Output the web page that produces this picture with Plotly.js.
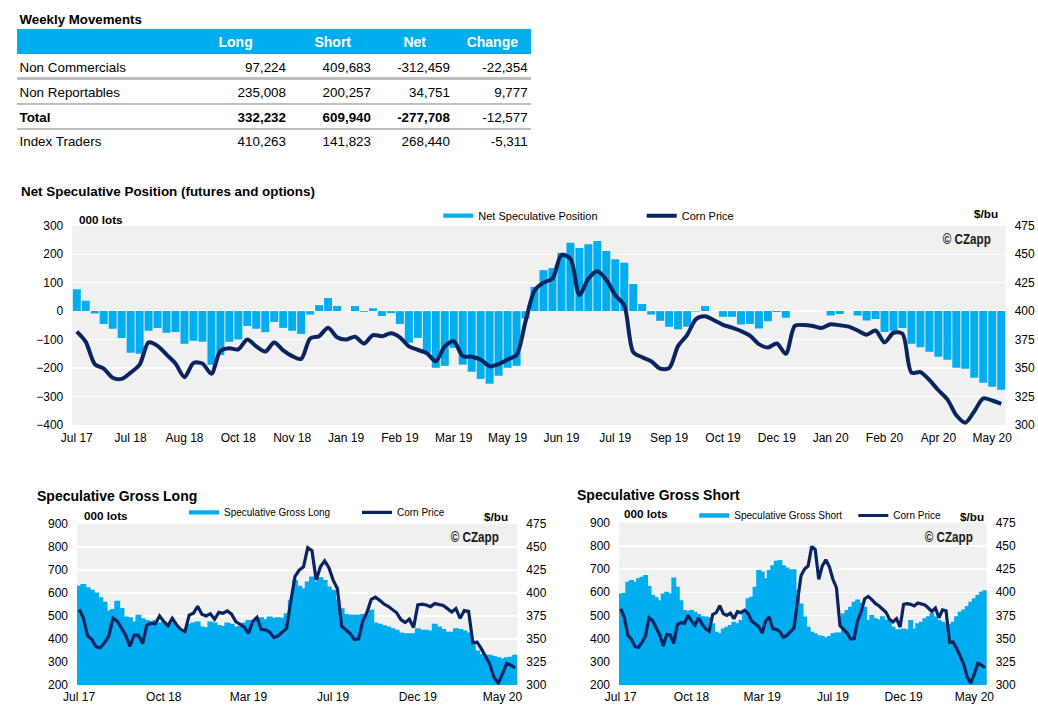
<!DOCTYPE html>
<html>
<head>
<meta charset="utf-8">
<script src="https://cdn.plot.ly/plotly-3.0.1.min.js"></script>
<style>
html, body { margin: 0; padding: 0; background: #ffffff; }
#wrap { position: relative; width: 1038px; height: 718px; overflow: hidden; font-family: "Liberation Sans", Arial, sans-serif; }
#chart { position: absolute; left: 0; top: 0; width: 1038px; height: 718px; }
#tbl { position: absolute; left: 0; top: 0; width: 1038px; height: 160px; }
.t { position: absolute; white-space: nowrap; height: 20px; line-height: 20px; color: #000; }
</style>
</head>
<body>
<div id="wrap">
  <div id="chart"></div>
  <div id="tbl"></div>
</div>
<script>
// ---------------- DATA ----------------
const tableTitle = 'Weekly Movements';
const colHeaders = ['Long', 'Short', 'Net', 'Change'];
const rowLabels = ['Non Commercials', 'Non Reportables', 'Total', 'Index Traders'];
const longCol   = ['97,224', '235,008', '332,232', '410,263'];
const shortCol  = ['409,683', '200,257', '609,940', '141,823'];
const netCol    = ['-312,459', '34,751', '-277,708', '268,440'];
const changeCol = ['-22,354', '9,777', '-12,577', '-5,311'];

const netTickLabels = ['Jul 17','Jul 18','Aug 18','Oct 18','Nov 18','Jan 19','Feb 19','Mar 19','May 19',
  'Jun 19','Jul 19','Sep 19','Oct 19','Dec 19','Jan 20','Feb 20','Apr 20','May 20'];
const grossTickLabels = ['Jul 17','Oct 18','Mar 19','Jul 19','Dec 19','May 20'];

// Net speculative position, 000 lots (weekly)
const netPosition = [77,36,-8,-45,-62,-94,-146,-150,-69,-59,
  -76,-73,-115,-104,-108,-188,-154,-108,-100,-52,
  -62,-74,-38,-59,-69,-80,-12,21,46,18,
  0,18,-3,10,-17,-7,-45,-111,-94,-148,
  -199,-192,-129,-188,-213,-238,-255,-227,-199,-192,
  -26,85,144,151,205,240,222,235,246,211,
  182,170,95,25,-12,-34,-55,-64,-55,-2,
  18,0,-20,-20,-47,-45,-61,-36,-3,-23,
  0,0,0,0,-15,-10,0,-15,-33,-28,
  -73,-69,-59,-115,-127,-143,-160,-171,-199,-202,
  -234,-252,-266,-276];

// Corn price, $/bu (cents)
const cornPrice = [382,373,353.5,349.5,341.5,340.5,346,353,372.5,369.5,
  361.8,354,342,354.5,354,345,365,367.3,366.5,375,
  369,364.5,372.5,365.5,360.5,358,376,378,385.5,377,
  375,377.5,371.5,379,378,380.5,377,369,366,363,
  356,369,373.5,360.5,360,357.5,351.5,353.5,357.5,361.5,
  391,418,425,428.5,449.3,446,414,428.5,435,427.5,
  414,405,364,359.5,356,349.5,350,369.5,379,393,
  395.5,392,388,385.5,382.5,378.5,371,368,371.5,362.5,
  387,387.8,387,385.2,388.5,387.5,386.4,383,379.3,383,
  372.5,381,380,346,346.5,339.5,330.5,322.5,308.5,302,
  312,323.4,321.5,318.6];

// Speculative gross long, 000 lots
const grossLong = [631,639,625,614,602,582,562,524,530,566,
  535,498,495,476,505,490,483,476,483,472,
  476,466,472,454,437,425,466,472,476,454,
  451,476,472,461,457,472,466,454,457,472,
  483,483,490,495,486,498,492,495,492,512,
  570,657,631,621,650,672,650,669,657,628,
  614,573,534,509,505,505,505,509,505,527,
  472,466,460,454,447,440,428,425,425,425,
  447,440,440,437,466,454,443,432,432,447,
  443,437,428,382,350,335,331,331,326,321,
  315,321,323,331];

// Speculative gross short, 000 lots
const grossShort = [595,598,645,653,645,660,667,674,627,588,
  578,566,595,602,595,664,624,566,523,520,
  523,516,506,497,495,492,466,430,423,444,
  451,459,473,466,480,509,574,581,624,696,
  689,660,696,717,736,739,717,707,699,699,
  610,552,495,451,430,423,415,411,405,411,
  423,426,426,509,523,538,559,569,555,538,
  480,502,488,483,497,483,480,451,440,440,
  444,440,480,444,466,473,488,497,509,495,
  480,473,466,463,473,497,516,526,541,559,
  574,588,602,609];

// ---------------- STYLE / LAYOUT ----------------
const W = 1038, H = 718;
const px = x => x / W;
const py = y => 1 - y / H;
const BLUE = '#00ADEF';
const NAVY = '#0A2460';
const FONT = 'Liberation Sans, Arial, sans-serif';
const NARROW = 'Liberation Sans Narrow, Arial Narrow, Liberation Sans, sans-serif';

const weeks = netPosition.map((_, i) => i);
const netTickVals = netTickLabels.map((_, k) => k * 6);
const grossTickVals = grossTickLabels.map((_, k) => k * 20);

// ---- table (HTML, real text) ----
const tbl = document.getElementById('tbl');
function addText(txt, o) {
  const d = document.createElement('div');
  d.className = 't';
  d.textContent = txt;
  d.style.fontSize = (o.size || 13.4) + 'px';
  if (o.bold) d.style.fontWeight = 'bold';
  if (o.color) d.style.color = o.color;
  d.style.top = (o.cy - 10) + 'px';
  if (o.left !== undefined) d.style.left = o.left + 'px';
  if (o.right !== undefined) { d.style.right = (W - o.right) + 'px'; d.style.textAlign = 'right'; }
  tbl.appendChild(d);
}
function addBox(l, t, w, h, c) {
  const d = document.createElement('div');
  Object.assign(d.style, {position: 'absolute', left: l + 'px', top: t + 'px', width: w + 'px', height: h + 'px', background: c});
  tbl.appendChild(d);
}
addText(tableTitle, {left: 19.5, cy: 19.5, size: 13.3, bold: true});
addBox(16.5, 29, 514.2, 25.3, BLUE);
const headRight = [252.7, 351, 426, 518];
colHeaders.forEach((h, k) => addText(h, {right: headRight[k], cy: 42.3, size: 14, bold: true, color: '#ffffff'}));
const rowCy = [68.3, 93.3, 118.3, 142.3];
const valRight = [286, 371, 450, 527.7];
const sepY = [78.3, 104, 129];
sepY.forEach(y => addBox(16.5, y - 1.4, 514.2, 2.8, '#BEBEBE'));
rowLabels.forEach((lab, r) => {
  const bold = lab === 'Total';
  addText(lab, {left: 19.5, cy: rowCy[r], bold});
  [longCol, shortCol, netCol, changeCol].forEach((col, k) => {
    addText(col[r], {right: valRight[k], cy: rowCy[r], bold: bold && k < 3});
  });
});

// ---- charts ----
const tickFont = {family: FONT, size: 12, color: '#000'};
function yAx(extra) {
  return Object.assign({showgrid: true, gridcolor: '#ffffff', gridwidth: 1.3, zeroline: false, showline: false,
    ticks: '', tickfont: tickFont, fixedrange: true}, extra);
}
function yAxR(extra) {
  return Object.assign({showgrid: false, zeroline: false, showline: false, ticks: '', tickfont: tickFont,
    side: 'right', range: [300, 475], tick0: 300, dtick: 25, fixedrange: true}, extra);
}
function xAx(extra) {
  return Object.assign({showgrid: false, zeroline: false, showline: false, ticks: '', tickfont: tickFont,
    tickangle: 0, range: [-0.5, weeks.length - 0.5], fixedrange: true}, extra);
}

const traces = [
  {type: 'bar', x: weeks, y: netPosition, width: 0.89, marker: {color: BLUE, line: {width: 0}},
    xaxis: 'x', yaxis: 'y', showlegend: false, hoverinfo: 'skip'},
  {type: 'scatter', mode: 'lines', x: [null], y: [null], name: 'Net Speculative Position',
    line: {color: BLUE, width: 4.3}, xaxis: 'x', yaxis: 'y', legend: 'legend', hoverinfo: 'skip'},
  {type: 'scatter', mode: 'lines', x: weeks, y: cornPrice, name: 'Corn Price',
    line: {color: NAVY, width: 4, shape: 'spline', smoothing: 0.8}, xaxis: 'x', yaxis: 'y2', legend: 'legend2', hoverinfo: 'skip'},

  {type: 'bar', x: weeks, y: grossLong, width: 1.4, marker: {color: BLUE, line: {width: 0}},
    xaxis: 'x2', yaxis: 'y3', showlegend: false, hoverinfo: 'skip'},
  {type: 'scatter', mode: 'lines', x: [null], y: [null], name: 'Speculative Gross Long',
    line: {color: BLUE, width: 4.3}, xaxis: 'x2', yaxis: 'y3', legend: 'legend3', hoverinfo: 'skip'},
  {type: 'scatter', mode: 'lines', x: weeks, y: cornPrice, name: 'Corn Price',
    line: {color: NAVY, width: 3.2}, xaxis: 'x2', yaxis: 'y4', legend: 'legend4', hoverinfo: 'skip'},

  {type: 'bar', x: weeks, y: grossShort, width: 1.4, marker: {color: BLUE, line: {width: 0}},
    xaxis: 'x3', yaxis: 'y5', showlegend: false, hoverinfo: 'skip'},
  {type: 'scatter', mode: 'lines', x: [null], y: [null], name: 'Speculative Gross Short',
    line: {color: BLUE, width: 4.3}, xaxis: 'x3', yaxis: 'y5', legend: 'legend5', hoverinfo: 'skip'},
  {type: 'scatter', mode: 'lines', x: weeks, y: cornPrice, name: 'Corn Price',
    line: {color: NAVY, width: 3.2}, xaxis: 'x3', yaxis: 'y6', legend: 'legend6', hoverinfo: 'skip'}
];

function leg(x, y, size) {
  return {x: px(x), xanchor: 'left', y: py(y), yanchor: 'middle', orientation: 'h',
    bgcolor: 'rgba(0,0,0,0)', borderwidth: 0, font: {family: FONT, size: size, color: '#000'}, itemclick: false, itemdoubleclick: false};
}
function ann(text, x, y, o) {
  return Object.assign({text: text, x: px(x), y: py(y), xref: 'paper', yref: 'paper', showarrow: false,
    xanchor: 'left', yanchor: 'middle', font: {family: FONT, size: 12, color: '#000', weight: 'bold'}}, o || {});
}
const narrowBold = {family: NARROW, size: 14, color: '#1a1a1a', weight: 'bold'};

const layout = {
  width: W, height: H, margin: {l: 0, r: 0, t: 0, b: 0},
  paper_bgcolor: 'rgba(0,0,0,0)', plot_bgcolor: '#F0F0F0',
  font: {family: FONT, size: 12, color: '#000'},
  showlegend: true,
  xaxis: xAx({domain: [px(72.3), px(1005.7)], anchor: 'y', tickvals: netTickVals, ticktext: netTickLabels, ticklabelstandoff: 4}),
  yaxis: yAx({domain: [py(425), py(225.7)], anchor: 'x', range: [-400, 300], tick0: -400, dtick: 100, ticklabelstandoff: 8}),
  yaxis2: yAxR({overlaying: 'y', anchor: 'x', ticklabelstandoff: 8}),

  xaxis2: xAx({domain: [px(77), px(517.3)], anchor: 'y3', tickvals: grossTickVals, ticktext: grossTickLabels, ticklabelstandoff: 3}),
  yaxis3: yAx({domain: [py(685), py(524)], anchor: 'x2', range: [200, 900], tick0: 200, dtick: 100, ticklabelstandoff: 8}),
  yaxis4: yAxR({overlaying: 'y3', anchor: 'x2', ticklabelstandoff: 8}),

  xaxis3: xAx({domain: [px(619), px(986.7)], anchor: 'y5', tickvals: grossTickVals, ticktext: grossTickLabels, ticklabelstandoff: 3}),
  yaxis5: yAx({domain: [py(685), py(522.7)], anchor: 'x3', range: [200, 900], tick0: 200, dtick: 100, ticklabelstandoff: 8}),
  yaxis6: yAxR({overlaying: 'y5', anchor: 'x3', ticklabelstandoff: 8}),

  legend: leg(438.3, 215.7, 11),
  legend2: leg(641.7, 215.7, 11),
  legend3: leg(184, 512.3, 10),
  legend4: leg(357, 512.3, 10),
  legend5: leg(694.3, 515.5, 10),
  legend6: leg(853.3, 515.5, 10),

  annotations: [
    ann('Net Speculative Position (futures and options)', 18.5, 192, {font: {family: FONT, size: 13.4, color: '#000', weight: 'bold'}}),
    ann('000 lots', 77, 219, {font: {family: FONT, size: 11.7, color: '#000', weight: 'bold'}}),
    ann('$/bu', 999.5, 214, {xanchor: 'right', font: {family: FONT, size: 11.7, color: '#000', weight: 'bold'}}),
    ann('© CZapp', 993, 239, {xanchor: 'right', font: narrowBold}),

    ann('Speculative Gross Long', 35, 496, {font: {family: FONT, size: 14, color: '#000', weight: 'bold'}}),
    ann('000 lots', 81.5, 515.5, {font: {family: FONT, size: 11.7, color: '#000', weight: 'bold'}}),
    ann('$/bu', 509.5, 516, {xanchor: 'right', font: {family: FONT, size: 11.7, color: '#000', weight: 'bold'}}),
    ann('© CZapp', 501.3, 536.7, {xanchor: 'right', font: narrowBold}),

    ann('Speculative Gross Short', 575.2, 495, {font: {family: FONT, size: 14, color: '#000', weight: 'bold'}}),
    ann('000 lots', 622, 513.3, {font: {family: FONT, size: 11.7, color: '#000', weight: 'bold'}}),
    ann('$/bu', 986.2, 516, {xanchor: 'right', font: {family: FONT, size: 11.7, color: '#000', weight: 'bold'}}),
    ann('© CZapp', 974.6, 537.3, {xanchor: 'right', font: narrowBold})
  ]
};

Plotly.newPlot('chart', traces, layout, {staticPlot: true, displayModeBar: false}).then(gd => {
  // emulate the condensed "Arial Narrow" watermark if no narrow face is installed
  gd.querySelectorAll('.annotation-text').forEach(t => {
    if (t.textContent.indexOf('CZapp') < 0) return;
    const bb = t.getBBox();
    const target = 48;
    if (bb.width > target + 1) {
      const s = target / bb.width;
      const xr = bb.x + bb.width;
      t.setAttribute('transform', 'translate(' + xr + ',0) scale(' + s + ',1) translate(' + (-xr) + ',0)');
    }
  });
});
</script>
</body>
</html>
